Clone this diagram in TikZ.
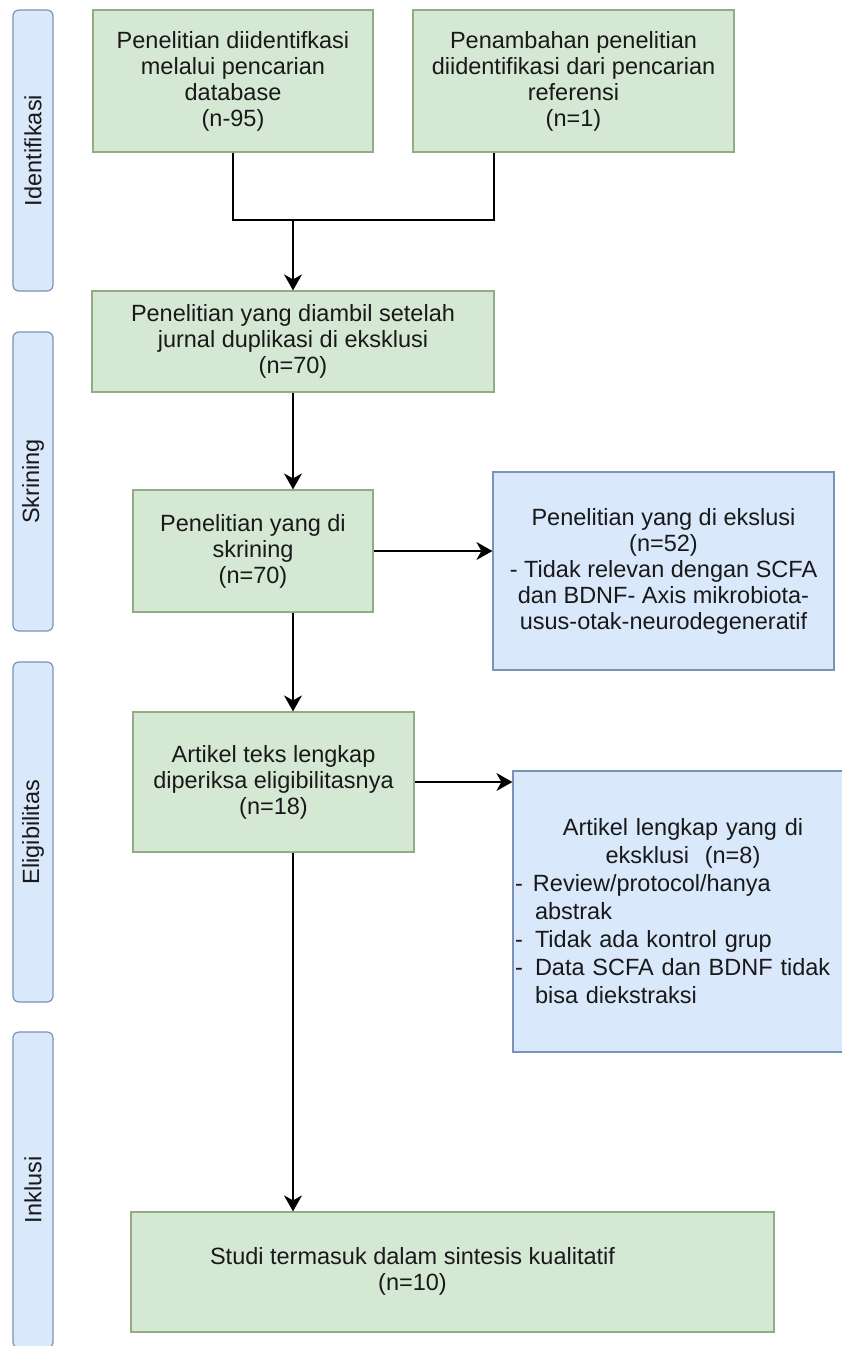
\documentclass[tikz,border=0pt]{standalone}
\usepackage{fontspec}
\setmainfont{Liberation Sans}
\usetikzlibrary{arrows.meta}

\definecolor{boxgreen}{HTML}{D5E8D4}
\definecolor{edgegreen}{HTML}{93AC86}
\definecolor{boxblue}{HTML}{DAE8FC}
\definecolor{edgeblue}{HTML}{7B93B8}

\begin{document}
\begin{tikzpicture}[x=1pt, y=-1pt,
    every node/.style={font=\fontsize{23.5}{26}\selectfont, text=black!90, align=center},
    greenbox/.style={draw=edgegreen, fill=boxgreen, line width=1.2pt, inner sep=2pt},
    bluebox/.style={draw=edgeblue, fill=boxblue, line width=1.2pt, inner sep=2pt},
    stagebar/.style={draw=edgeblue, fill=boxblue, rounded corners=6pt, rotate=90,
      minimum height=40pt, line width=1.2pt, inner sep=0pt},
    link/.style={line width=1.5pt},
    flow/.style={link, -{Stealth[length=16pt, width=18pt, inset=5pt]}}]
          \path[use as bounding box, fill=white] (0,0) rectangle (841,1346);

          \foreach \lane/\ya/\yb/\stage in {ident/10/291/Identifikasi, skrin/332/631/Skrining,
              elig/662/1002/Eligibilitas, inkl/1032/1348/Inklusi}{
            \node[stagebar, minimum width={\yb-\ya}] (\lane) at (33,{(\ya+\yb)/2}) {\stage};
          }

          \node[greenbox, minimum width=280pt, minimum height=142pt] (dbsrc) at (233,81)
            {Penelitian diidentifkasi\\melalui pencarian\\database\\(n-95)};
          \node[greenbox, minimum width=321pt, minimum height=142pt] (refsrc) at (573.5,81)
            {Penambahan penelitian\\diidentifikasi dari pencarian\\referensi\\(n=1)};
          \node[greenbox, minimum width=402pt, minimum height=101pt] (dedup) at (293,341.5)
            {Penelitian yang diambil setelah\\jurnal duplikasi di eksklusi\\(n=70)};
          \node[greenbox, minimum width=240pt, minimum height=122pt] (screen) at (253,551)
            {Penelitian yang di\\skrining\\(n=70)};
          \node[bluebox, minimum width=341pt, minimum height=198pt] (exclA) at (663.5,571)
            {Penelitian yang di ekslusi\\(n=52)\\- Tidak relevan dengan SCFA\\dan BDNF- Axis mikrobiota-\\usus-otak-neurodegeneratif};
          \node[greenbox, minimum width=281pt, minimum height=140pt] (fulltext) at (273.5,782)
            {Artikel teks lengkap\\diperiksa eligibilitasnya\\(n=18)};
          \node[bluebox, minimum width=340pt, minimum height=281pt, text width=336pt, align=left,
              font=\fontsize{23.5}{28}\selectfont] (exclB) at (683,911.5)
            {\centering Artikel lengkap yang di\\eksklusi\ \ (n=8)\par
             \raggedright\makebox[18pt][l]{-}Review/protocol/hanya\\
             \hspace*{20pt}abstrak\\
             \makebox[20pt][l]{-}Tidak ada kontrol grup\\
             \makebox[20pt][l]{-}Data SCFA dan BDNF tidak\\
             \hspace*{20pt}bisa diekstraksi};
          \node[greenbox, minimum width=643pt, minimum height=120pt] (incl) at (452.5,1272)
            {\hspace*{-80pt}\begin{tabular}{@{}c@{}}Studi termasuk dalam sintesis kualitatif\\(n=10)\end{tabular}};

          \coordinate (merge) at (293,220);
          \coordinate (mergeR) at (494,220);
          \draw[link] (dbsrc.south) |- (merge) -- (mergeR) -- (mergeR |- refsrc.south);
          \draw[flow] (merge) -- (dedup.north);
          \draw[flow] (dedup.south) -- (dedup.south |- screen.north);
          \draw[flow] (screen.east) -- (screen.east -| exclA.west);
          \draw[flow] (dedup.south |- screen.south) -- (dedup.south |- fulltext.north);
          \draw[flow] (fulltext.east) -- (fulltext.east -| exclB.west);
          \draw[flow] (dedup.south |- fulltext.south) -- (dedup.south |- incl.north);
        \end{tikzpicture}
\end{document}
